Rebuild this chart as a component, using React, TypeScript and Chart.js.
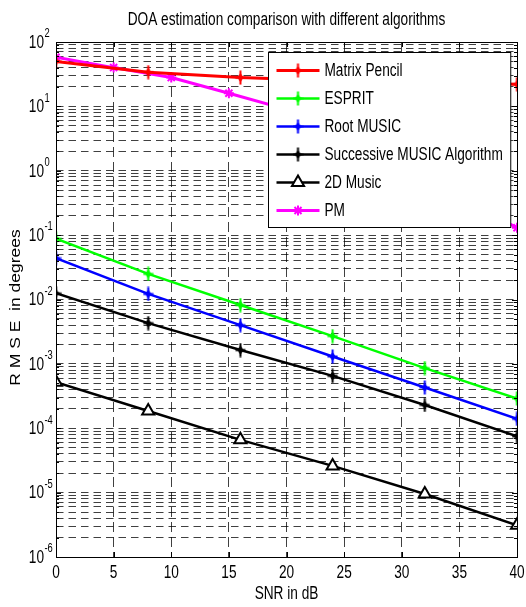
import React, { useEffect, useRef } from 'react';
import { Chart, registerables } from 'chart.js';
import { drawPoint } from 'chart.js/helpers';

Chart.register(...registerables);

// ---- data ----
const snrMain = [0, 8, 16, 24, 32, 40];
const snrPM = [0, 5, 10, 15, 20, 25, 30, 35, 40];
const matrixPencil = [50, 34, 28, 25, 23.5, 22];
const esprit = [0.088, 0.025, 0.0082, 0.0027, 0.00086, 0.00029];
const rootMusic = [0.044, 0.0122, 0.004, 0.0013, 0.00043, 0.00014];
const successiveMusic = [0.0125, 0.0043, 0.00164, 0.00065, 0.00023, 0.000075];
const music2D = [0.00052, 0.000185, 0.000066, 0.000026, 0.0000095, 0.0000031];
const pmValues = [58, 40, 28, 16, 9, 3.3, 1.1, 0.38, 0.13];
const xTickValues = [0, 5, 10, 15, 20, 25, 30, 35, 40];
const yDecadeExponents = [-6, -5, -4, -3, -2, -1, 0, 1, 2];
const seriesNames = ['Matrix Pencil', 'ESPRIT', 'Root MUSIC', 'Successive MUSIC Algorithm', '2D Music', 'PM'];
const titleText = 'DOA estimation comparison with different algorithms';
const xTitle = 'SNR in dB';
const yTitle = 'R M S E  in degrees';

const FONT = '"Liberation Sans", Arial, sans-serif';
const SX = 0.78;

function makeStar(color: string): HTMLCanvasElement {
  const c = document.createElement('canvas');
  c.width = 11;
  c.height = 15;
  const g = c.getContext('2d')!;
  const cx = 5.5, cy = 7.5;
  g.fillStyle = color;
  g.strokeStyle = color;
  g.beginPath();
  g.moveTo(cx, cy - 5);
  g.lineTo(cx + 3, cy);
  g.lineTo(cx, cy + 5);
  g.lineTo(cx - 3, cy);
  g.closePath();
  g.fill();
  g.lineWidth = 2;
  g.beginPath();
  g.moveTo(0.5, cy);
  g.lineTo(10.5, cy);
  g.moveTo(cx, 0.5);
  g.lineTo(cx, 14.5);
  g.stroke();
  return c;
}

function drawText(ctx: CanvasRenderingContext2D, s: string, x: number, y: number, size: number, align: CanvasTextAlign, baseline: CanvasTextBaseline) {
  ctx.save();
  ctx.translate(x, y);
  ctx.scale(SX, 1);
  ctx.font = `${size}px ${FONT}`;
  ctx.textAlign = align;
  ctx.textBaseline = baseline;
  ctx.fillStyle = '#000';
  ctx.fillText(s, 0, 0);
  ctx.restore();
}

function measure(ctx: CanvasRenderingContext2D, s: string, size: number) {
  ctx.save();
  ctx.font = `${size}px ${FONT}`;
  const w = ctx.measureText(s).width * SX;
  ctx.restore();
  return w;
}

export default function App() {
  const ref = useRef<HTMLCanvasElement>(null);
  useEffect(() => {
    const canvas = ref.current!;
    const markers = {
      red: makeStar('#ff0000'),
      green: makeStar('#00ff00'),
      blue: makeStar('#0000ff'),
      black: makeStar('#000000'),
    };
    const mk = (xs: number[], ys: number[]) => xs.map((x, i) => ({ x, y: ys[i] }));
    const datasets: any[] = [
      { label: seriesNames[0], data: mk(snrMain, matrixPencil), borderColor: '#ff0000', backgroundColor: '#ff0000', borderWidth: 3, pointStyle: markers.red, pointRadius: 6 },
      { label: seriesNames[1], data: mk(snrMain, esprit), borderColor: '#00ff00', backgroundColor: '#00ff00', borderWidth: 2.5, pointStyle: markers.green, pointRadius: 6 },
      { label: seriesNames[2], data: mk(snrMain, rootMusic), borderColor: '#0000ff', backgroundColor: '#0000ff', borderWidth: 2.5, pointStyle: markers.blue, pointRadius: 6 },
      { label: seriesNames[3], data: mk(snrMain, successiveMusic), borderColor: '#000000', backgroundColor: '#000000', borderWidth: 2.5, pointStyle: markers.black, pointRadius: 6 },
      { label: seriesNames[4], data: mk(snrMain, music2D), borderColor: '#000000', backgroundColor: '#ffffff', borderWidth: 2.5, pointStyle: 'triangle', pointRadius: 7, pointBorderWidth: 2 },
      { label: seriesNames[5], data: mk(snrPM, pmValues), borderColor: '#ff00ff', backgroundColor: '#ff00ff', borderWidth: 3, pointStyle: 'star', pointRadius: 5, pointBorderWidth: 2 },
    ];

    const decorations = {
      id: 'decorations',
      afterDraw(chart: any) {
        const ctx: CanvasRenderingContext2D = chart.ctx;
        const { left, right, top, bottom } = chart.chartArea;
        const xs = chart.scales.x;
        const ys = chart.scales.y;
        ctx.save();
        // box
        ctx.strokeStyle = '#000';
        ctx.lineWidth = 1;
        ctx.setLineDash([]);
        ctx.strokeRect(Math.round(left) + 0.5, Math.round(top) + 0.5, Math.round(right - left), Math.round(bottom - top));
        // inward ticks
        ctx.beginPath();
        for (const v of xTickValues) {
          const px = Math.round(xs.getPixelForValue(v)) + 0.5;
          ctx.moveTo(px, bottom); ctx.lineTo(px, bottom - 5);
          ctx.moveTo(px, top); ctx.lineTo(px, top + 5);
        }
        for (const e of yDecadeExponents) {
          for (let m = 1; m <= 9; m++) {
            const v = m * Math.pow(10, e);
            if (v > 100.0001) continue;
            const py = Math.round(ys.getPixelForValue(v)) + 0.5;
            const len = m === 1 ? 5 : 3;
            ctx.moveTo(left, py); ctx.lineTo(left + len, py);
            ctx.moveTo(right, py); ctx.lineTo(right - len, py);
          }
        }
        ctx.stroke();
        // x tick labels
        for (const v of xTickValues) {
          drawText(ctx, String(v), xs.getPixelForValue(v), bottom + 16, 17.5, 'center', 'middle');
        }
        // y tick labels
        for (const e of yDecadeExponents) {
          const py = ys.getPixelForValue(Math.pow(10, e));
          const baseRight = left - 12;
          drawText(ctx, '10', baseRight, py + 1, 17.5, 'right', 'middle');
          drawText(ctx, String(e), baseRight + 0.5, py - 8, 12, 'left', 'middle');
        }
        // titles
        const cx = (left + right) / 2;
        drawText(ctx, titleText, cx, 25, 17.5, 'center', 'alphabetic');
        drawText(ctx, xTitle, cx, bottom + 37, 17.5, 'center', 'middle');
        ctx.save();
        ctx.translate(16, (top + bottom) / 2 + 8);
        ctx.rotate(-Math.PI / 2);
        ctx.scale(1, 0.85);
        ctx.font = `17.5px ${FONT}`;
        ctx.textAlign = 'center';
        ctx.textBaseline = 'middle';
        ctx.fillStyle = '#000';
        ctx.fillText(yTitle, 0, 0);
        ctx.restore();

        // legend
        const textSize = 17.5;
        const maxW = Math.max(...seriesNames.map((s) => measure(ctx, s, textSize)));
        const rowH = 28;
        const padL = 8, sample = 43, gap = 5, padR = 8;
        const boxW = padL + sample + gap + maxW + padR;
        const boxH = 18 + rowH * (seriesNames.length - 1) + 17;
        const bx = Math.round(right - 7 - boxW) + 0.5;
        const by = Math.round(top + 10) + 0.5;
        ctx.fillStyle = '#fff';
        ctx.fillRect(bx, by, boxW, boxH);
        ctx.strokeStyle = '#000';
        ctx.lineWidth = 1;
        ctx.strokeRect(bx, by, boxW, boxH);
        datasets.forEach((ds, i) => {
          const ry = by + 18 + i * rowH;
          ctx.save();
          ctx.strokeStyle = ds.borderColor;
          ctx.lineWidth = ds.borderWidth;
          ctx.beginPath();
          ctx.moveTo(bx + padL, ry);
          ctx.lineTo(bx + padL + sample, ry);
          ctx.stroke();
          const mx = bx + padL + sample / 2;
          if (ds.pointStyle instanceof HTMLCanvasElement) {
            const im = ds.pointStyle as HTMLCanvasElement;
            ctx.drawImage(im, mx - im.width / 2, ry - im.height / 2);
          } else {
            ctx.fillStyle = ds.backgroundColor;
            ctx.strokeStyle = ds.borderColor;
            ctx.lineWidth = ds.pointBorderWidth || 1;
            drawPoint(ctx, { pointStyle: ds.pointStyle, radius: ds.pointRadius, rotation: 0, borderWidth: ds.pointBorderWidth } as any, mx, ry);
          }
          ctx.restore();
          drawText(ctx, ds.label, bx + padL + sample + gap, ry + 1, textSize, 'left', 'middle');
        });
        ctx.restore();
      },
    };

    const chart = new Chart(canvas, {
      type: 'line',
      data: { datasets },
      options: {
        animation: false,
        responsive: false,
        devicePixelRatio: 1,
        layout: { padding: { left: 56, top: 42, right: 7, bottom: 50 } },
        plugins: { legend: { display: false }, title: { display: false }, tooltip: { enabled: false } },
        elements: { line: { tension: 0 } },
        scales: {
          x: {
            type: 'linear',
            min: 0,
            max: 40,
            ticks: { display: false, stepSize: 5 },
            grid: { color: 'rgba(0,0,0,0.75)', lineWidth: 1, drawTicks: false },
            border: { display: false, dash: [10, 5] },
          },
          y: {
            type: 'logarithmic',
            min: 1e-6,
            max: 100,
            ticks: { display: false },
            grid: { color: 'rgba(0,0,0,0.75)', lineWidth: 1, drawTicks: false },
            border: { display: false, dash: [7.5, 5] },
            afterBuildTicks: (scale: any) => {
              const t: any[] = [];
              for (const e of yDecadeExponents) {
                for (let m = 1; m <= 9; m++) {
                  const v = m * Math.pow(10, e);
                  if (v <= 100.0001) t.push({ value: v });
                }
              }
              scale.ticks = t;
            },
          },
        },
      },
      plugins: [decorations],
    });
    return () => chart.destroy();
  }, []);
  return (
    <div style={{ position: 'fixed', left: 0, top: 0, width: 526, height: 607, background: '#fff' }}>
      <canvas ref={ref} width={526} height={607} style={{ width: 526, height: 607, display: 'block' }} />
    </div>
  );
}
